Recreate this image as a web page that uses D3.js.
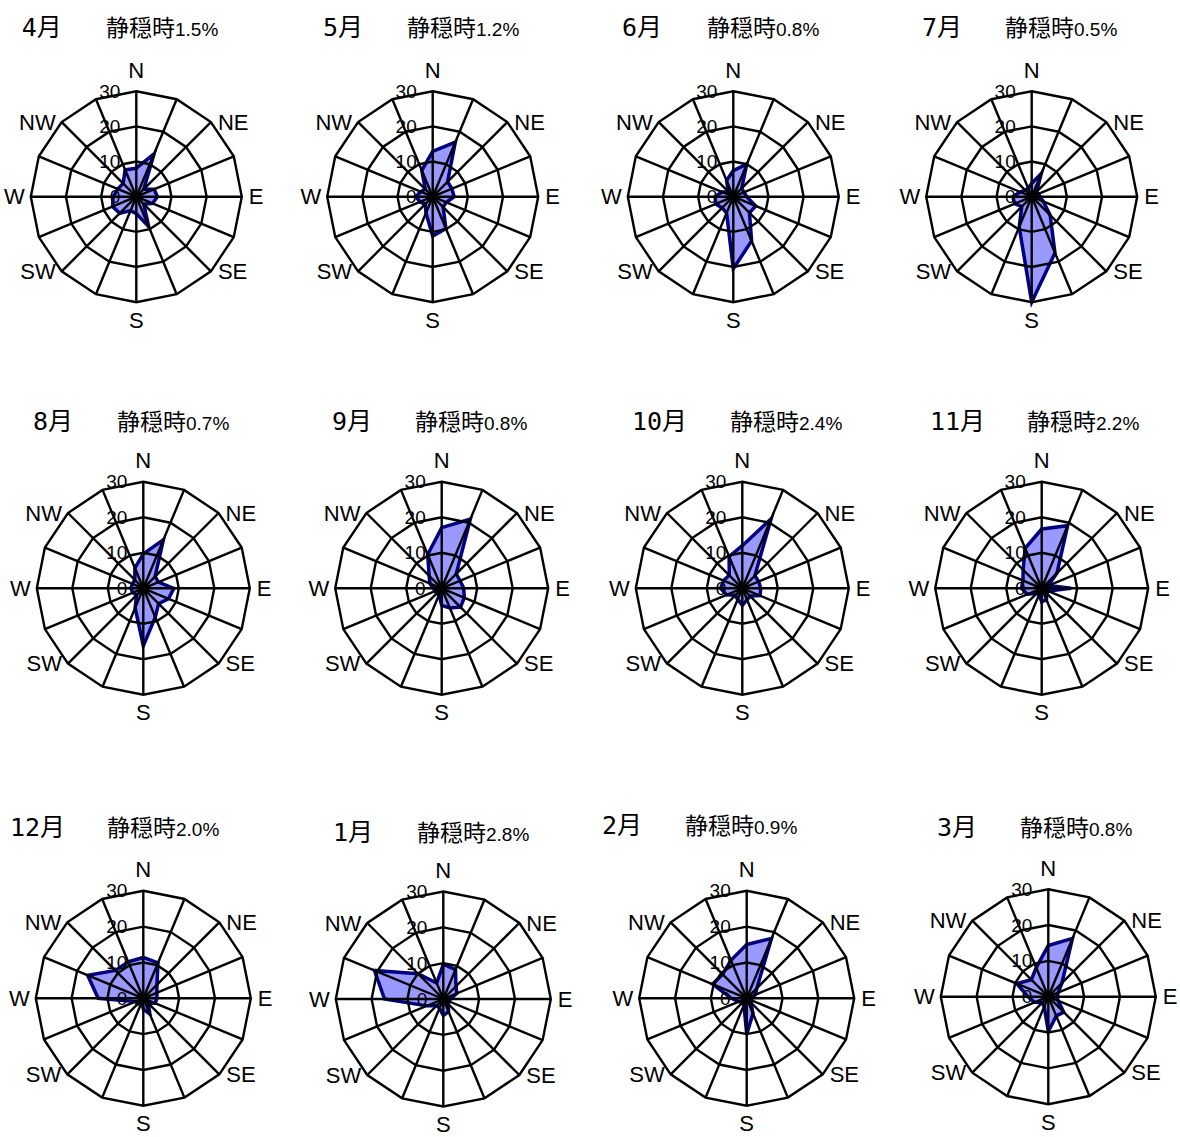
<!DOCTYPE html>
<html><head><meta charset="utf-8">
<script src="https://cdn.jsdelivr.net/npm/d3@7"></script>
<style>html,body{margin:0;padding:0;background:#fff;}svg{display:block;}</style>
</head><body>
<script>
const directions = ["N","NNE","NE","ENE","E","ESE","SE","SSE","S","SSW","SW","WSW","W","WNW","NW","NNW"];
const dirLabels = ["N","NE","E","SE","S","SW","W","NW"];
const ringTicks = [0, 10, 20, 30];
const months = ["4月","5月","6月","7月","8月","9月","10月","11月","12月","1月","2月","3月"];
const calmLabel = "静穏時";
const calmValues = ["1.5%","1.2%","0.8%","0.5%","0.7%","0.8%","2.4%","2.2%","2.0%","2.8%","0.9%","0.8%"];

// frequency (%) by direction N, NNE, ... NNW
const apr = [8.1,13.2,3,5.5,6,5,3,9.2,4.8,4.3,6.7,7.3,6.6,5.7,5.3,8.3];
const may = [12.9,16.8,6,5.9,6.1,4.2,4.2,9.8,11.2,5,3,3.9,4.8,3.7,3,8.1];
const jun = [7.4,10,3.4,3.3,3.8,6.9,6.5,13.6,20.5,5,4.5,5.4,5.2,3.5,2,5];
const jul = [3.8,7.1,2,2,2.4,3.6,7.4,17.3,30,9.3,4,5.2,5.4,3.5,2.6,2.6];
const aug = [9.7,14.8,4.7,4.6,8.6,7.7,6.1,8.8,16.2,6,2.7,3.2,3.5,3.3,3.4,6.2];
const sep = [17.1,21.1,5.8,5.6,6.2,6.9,7.5,6,4.8,2,2,2,2.4,3.6,5,10.3];
const oct = [12,21.2,5,5,5.2,5.4,3.1,3.5,4.8,3.4,2.8,4.8,6.1,5.7,5.2,9.7];
const nov = [16.7,19.1,6.1,2,8.3,2,2,3.5,3.8,2,2,4.4,5.7,5.7,7.4,12.2];
const dec = [11.4,10.7,5.4,4.1,3.8,3.6,2,4.8,3,1.3,2.3,2.4,12.6,16.8,11,11];
const jan = [9.7,8.9,5,4.1,2,1.6,2,3.8,4.6,2.8,2.6,5,16.4,20.8,10,4.8];
const feb = [15,18.1,4,2.6,1.4,1.5,1.6,4.6,10,2,1.7,2.4,4.3,10.3,9.5,11.5];
const mar = [14.3,17.6,5.4,3,2.4,3,6.1,5.8,9.7,3,2.4,4.1,5.7,9.5,6.7,8.8];
const series = [apr,may,jun,jul,aug,sep,oct,nov,dec,jan,feb,mar];

// layout (positions only)
const layout = [
  {cx:136.3,cy:196.7,R:105.5,mx:21.7,kx:106,ty:36},
  {cx:432.7,cy:196.7,R:105.5,mx:323,kx:407,ty:36},
  {cx:733.3,cy:196.7,R:105.5,mx:622,kx:707,ty:36},
  {cx:1031.7,cy:196.7,R:105.5,mx:922,kx:1005,ty:36},
  {cx:143.3,cy:588.3,R:106.5,mx:33,kx:117,ty:430},
  {cx:441.7,cy:588.3,R:106.5,mx:332,kx:415,ty:430},
  {cx:742.3,cy:588.3,R:106.5,mx:632,kx:730,ty:430},
  {cx:1041.7,cy:588.3,R:106.5,mx:930,kx:1027,ty:430},
  {cx:143.3,cy:998.3,R:107.5,mx:10,kx:107,ty:836},
  {cx:443.3,cy:999,R:107.5,mx:333,kx:417,ty:841},
  {cx:746.7,cy:998.3,R:107.5,mx:602,kx:685,ty:834},
  {cx:1048.3,cy:996.7,R:107.5,mx:937,kx:1020,ty:836}
];

const W = 1180, H = 1137;
const svg = d3.select("body").append("svg").attr("width", W).attr("height", H);
const latin = "'Liberation Sans', Arial, sans-serif";
const cjk = "'Noto Sans CJK JP', sans-serif";
const n = directions.length;
const angle = d3.scaleLinear().domain([0, n]).range([0, 2 * Math.PI]);

series.forEach((vals, k) => {
  const L = layout[k];
  const r = d3.scaleLinear().domain([0, 30]).range([0, L.R]);
  const g = svg.append("g").attr("transform", `translate(${L.cx},${L.cy})`);
  const radial = d3.lineRadial().curve(d3.curveLinearClosed)
    .angle((d, i) => angle(i)).radius(d => r(d));

  // data polygon
  g.append("path").datum(vals).attr("d", radial)
    .attr("fill", "#9999ff").attr("stroke", "#000080")
    .attr("stroke-width", 3.5).attr("stroke-linejoin", "miter");

  // grid rings
  ringTicks.filter(t => t > 0).forEach(t => {
    g.append("path").datum(directions.map(() => t)).attr("d", radial)
      .attr("fill", "none").attr("stroke", "#000").attr("stroke-width", 2.4);
  });
  // spokes
  g.selectAll("line.spoke").data(directions).join("line").attr("class", "spoke")
    .attr("x1", 0).attr("y1", 0)
    .attr("x2", (d, i) => r(30) * Math.sin(angle(i)))
    .attr("y2", (d, i) => -r(30) * Math.cos(angle(i)))
    .attr("stroke", "#000").attr("stroke-width", 2.4);

  // ring labels
  g.selectAll("text.tick").data(ringTicks).join("text").attr("class", "tick")
    .attr("x", -16).attr("y", d => -r(d))
    .attr("text-anchor", "end").attr("dominant-baseline", "central")
    .attr("font-family", latin).attr("font-size", 19).attr("fill", "#000")
    .text(d => d);

  // direction labels
  dirLabels.forEach(lab => {
    const i = directions.indexOf(lab);
    const a = angle(i);
    const vx = r(30) * Math.sin(a), vy = -r(30) * Math.cos(a);
    let x = vx, y = vy, anchor = "middle";
    if (lab === "N") { y = vy - 21; }
    else if (lab === "S") { y = vy + 18; }
    else if (vx > 1) { x = vx + 7; anchor = "start"; }
    else if (vx < -1) { x = vx - 6; anchor = "end"; }
    g.append("text").attr("x", x).attr("y", y)
      .attr("text-anchor", anchor).attr("dominant-baseline", "central")
      .attr("font-family", latin).attr("font-size", 22).attr("fill", "#000")
      .text(lab);
  });

  // titles
  svg.append("text").attr("x", L.mx).attr("y", L.ty)
    .attr("font-family", "'DejaVu Sans Mono', 'Noto Sans CJK JP', monospace")
    .attr("font-size", 25).attr("fill", "#000").text(months[k]);
  const ct = svg.append("text").attr("x", L.kx).attr("y", L.ty).attr("fill", "#000");
  ct.append("tspan").attr("font-family", cjk).attr("font-size", 23).text(calmLabel);
  ct.append("tspan").attr("font-family", latin).attr("font-size", 19).text(calmValues[k]);
});
</script>
</body></html>
